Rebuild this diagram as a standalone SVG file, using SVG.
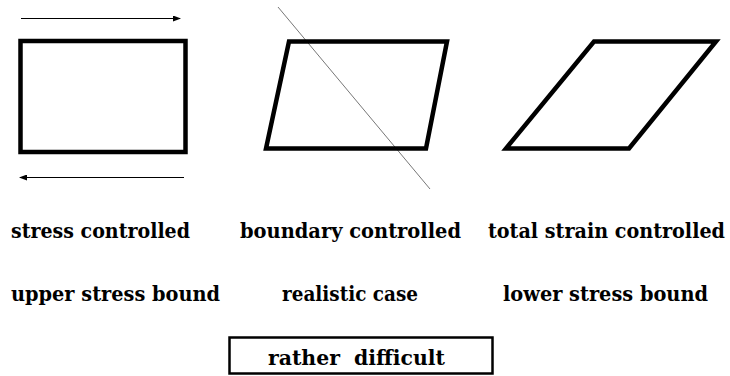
<svg xmlns="http://www.w3.org/2000/svg" width="730" height="376" viewBox="0 0 730 376">
<style>
.shape{fill:none;stroke:#000;stroke-width:4.5;stroke-linejoin:miter}
.arrow{stroke:#000;stroke-width:1;fill:none}
.lbl{font-family:'DejaVu Serif',serif;font-weight:700;font-size:20px;fill:#000}
</style>
<defs>
<marker id="ah" markerWidth="8" markerHeight="6" refX="7" refY="3" orient="auto" markerUnits="userSpaceOnUse">
<path d="M0,0 L8,3 L0,6 Z" fill="#000"/>
</marker>
</defs>
<rect width="730" height="376" fill="#fff"/>
<g id="connectors">
<line class="arrow" x1="21" y1="18.5" x2="180" y2="18.5" marker-end="url(#ah)"/>
<line class="arrow" x1="184" y1="177.5" x2="20" y2="177.5" marker-end="url(#ah)"/>
<line x1="278" y1="7" x2="430" y2="189" stroke="#777" stroke-width="1"/>
</g>
<g id="stress-controlled">
<rect class="shape" x="20.5" y="41" width="165" height="111"/>
<text class="lbl" x="11" y="238" textLength="179" lengthAdjust="spacingAndGlyphs">stress controlled</text>
<text class="lbl" x="11" y="301" textLength="209" lengthAdjust="spacingAndGlyphs">upper stress bound</text>
</g>
<g id="boundary-controlled">
<polygon class="shape" points="289,41.5 447,41.5 426,148.5 266,148.5"/>
<text class="lbl" x="240" y="238" textLength="221" lengthAdjust="spacingAndGlyphs">boundary controlled</text>
<text class="lbl" x="282" y="301" textLength="136" lengthAdjust="spacingAndGlyphs">realistic case</text>
</g>
<g id="total-strain-controlled">
<polygon class="shape" points="594,41.5 716,41.5 629,148.5 506,148.5"/>
<text class="lbl" x="488" y="238" textLength="237" lengthAdjust="spacingAndGlyphs">total strain controlled</text>
<text class="lbl" x="503" y="301" textLength="205" lengthAdjust="spacingAndGlyphs">lower stress bound</text>
</g>
<g id="rather-difficult">
<rect x="229.5" y="337.5" width="263" height="36" fill="none" stroke="#000" stroke-width="2.5"/>
<text class="lbl" x="268" y="365" textLength="177" lengthAdjust="spacingAndGlyphs" xml:space="preserve">rather  difficult</text>
</g>
</svg>
